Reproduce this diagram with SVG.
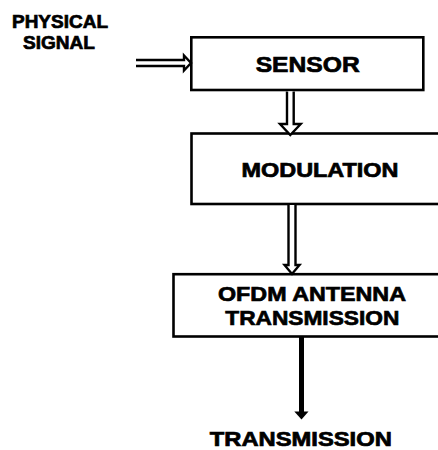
<svg xmlns="http://www.w3.org/2000/svg" width="438" height="450" viewBox="0 0 438 450">
<style>
.box{fill:#fff;stroke:#000;stroke-width:2.6}
.t{font-family:"Liberation Sans",Arial,sans-serif;font-weight:bold;fill:#000;stroke:#000;stroke-width:0.7;text-anchor:middle}
.hollow{fill:#fff;stroke:#000;stroke-width:2.4;stroke-linejoin:miter}
</style>
<rect width="438" height="450" fill="#fff"/>
<g id="physical-signal">
<text class="t" x="60" y="27.5" font-size="18.5" textLength="96" lengthAdjust="spacingAndGlyphs">PHYSICAL</text>
<text class="t" x="59" y="49" font-size="18.5" textLength="72" lengthAdjust="spacingAndGlyphs">SIGNAL</text>
</g>
<g id="sensor">
<rect class="box" x="191.3" y="37.3" width="232" height="52.7"/>
<text class="t" x="307.7" y="72.3" font-size="22" textLength="104" lengthAdjust="spacingAndGlyphs">SENSOR</text>
</g>
<g id="modulation">
<rect class="box" x="191.5" y="133.5" width="260" height="70.5"/>
<text class="t" x="320" y="176.6" font-size="20" textLength="157" lengthAdjust="spacingAndGlyphs">MODULATION</text>
</g>
<g id="ofdm">
<rect class="box" x="173.5" y="274.2" width="280" height="62.3"/>
<text class="t" x="312" y="301.3" font-size="21" textLength="188" lengthAdjust="spacingAndGlyphs">OFDM ANTENNA</text>
<text class="t" x="312.3" y="324.7" font-size="21" textLength="174" lengthAdjust="spacingAndGlyphs">TRANSMISSION</text>
</g>
<g id="transmission">
<text class="t" x="300.8" y="445.5" font-size="19.5" textLength="182" lengthAdjust="spacingAndGlyphs">TRANSMISSION</text>
</g>
<g id="connectors">
<path class="hollow" d="M136,60 H184 V55.5 L191,63 L184,70.5 V66 H136"/>
<path class="hollow" d="M287,91.5 V124 H280 L290.3,135 L300.7,124 H293.7 V91.5"/>
<path class="hollow" d="M288.5,205 V265 H284.5 L292,274 L299.5,265 H295.5 V205"/>
<line x1="301.5" y1="337" x2="301.5" y2="412" stroke="#000" stroke-width="5"/>
<polygon points="294.3,411.5 308.5,411.5 301.5,419.5" fill="#000"/>
</g>
</svg>
